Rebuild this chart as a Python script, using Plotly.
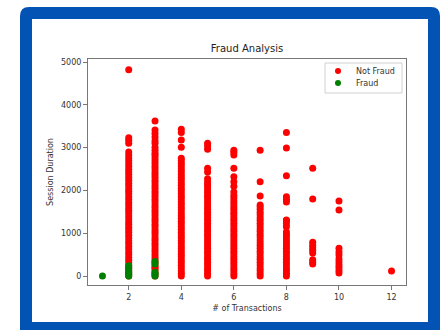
import plotly.graph_objects as go

# ---- data ----
nf_x2 = [0, 55, 120, 185, 240, 310, 370, 430, 500, 560, 630, 690, 760, 820, 890, 950, 1020, 1080,
         1140, 1210, 1270, 1340, 1400, 1470, 1530, 1590, 1660, 1720, 1790, 1850, 1920, 1980, 2040,
         2110, 2170, 2240, 2300, 2370, 2430, 2490, 2560, 2620, 2690, 2760, 2830, 2900, 3100, 3170,
         3230, 4820]
nf_x3 = [0, 60, 125, 180, 200, 250, 320, 380, 440, 500, 570, 630, 700, 760, 830, 890, 960, 1020,
         1080, 1150, 1210, 1280, 1340, 1410, 1470, 1530, 1600, 1660, 1730, 1790, 1860, 1920, 1980,
         2050, 2110, 2180, 2240, 2310, 2370, 2430, 2500, 2560, 2630, 2690, 2760, 2820, 2870, 2940,
         3010, 3100, 3160, 3250, 3330, 3410, 3620]
nf_x4 = [0, 60, 120, 190, 250, 320, 380, 450, 510, 570, 640, 700, 770, 830, 900, 960, 1020, 1090,
         1150, 1220, 1280, 1350, 1410, 1470, 1540, 1600, 1670, 1730, 1800, 1860, 1920, 1990, 2050,
         2120, 2180, 2250, 2310, 2370, 2440, 2500, 2570, 2630, 2690, 2750, 3010, 3180, 3350, 3430]
nf_x5 = [0, 60, 130, 190, 260, 320, 390, 450, 520, 580, 650, 710, 780, 840, 910, 970, 1040, 1100,
         1170, 1230, 1300, 1360, 1430, 1490, 1560, 1620, 1690, 1750, 1820, 1880, 1950, 2010, 2080,
         2140, 2200, 2270, 2430, 2520, 2960, 3040, 3100]
nf_x6 = [0, 60, 130, 190, 260, 320, 390, 450, 520, 580, 650, 710, 780, 840, 910, 970, 1040, 1100,
         1170, 1230, 1300, 1360, 1430, 1490, 1560, 1620, 1690, 1750, 1820, 1880, 1960, 2100, 2200,
         2320, 2520, 2830, 2890, 2940]
nf_x7 = [0, 60, 130, 190, 260, 320, 390, 450, 520, 580, 650, 710, 780, 840, 910, 970, 1040, 1100,
         1170, 1230, 1300, 1360, 1430, 1490, 1560, 1620, 1660, 1870, 2200, 2940]
nf_x8 = [0, 60, 130, 190, 260, 320, 390, 450, 520, 580, 650, 710, 780, 840, 910, 970, 1030, 1150,
         1220, 1290, 1310, 1730, 1790, 1850, 2340, 2990, 3350]
nf_x9 = [280, 330, 380, 540, 600, 660, 720, 790, 1800, 2520]
nf_x10 = [70, 130, 200, 260, 330, 400, 490, 560, 650, 1540, 1750]
nf_x12 = [120]

fr_x1 = [0]
fr_x2 = [0, 40, 90, 140, 190, 240]
fr_x3 = [0, 40, 90, 280, 340]

series_names = ["Not Fraud", "Fraud"]
series_colors = ["#ff0000", "#008000"]

not_fraud = {2: nf_x2, 3: nf_x3, 4: nf_x4, 5: nf_x5, 6: nf_x6, 7: nf_x7, 8: nf_x8,
             9: nf_x9, 10: nf_x10, 12: nf_x12}
fraud = {1: fr_x1, 2: fr_x2, 3: fr_x3}

def flatten(d):
    xs, ys = [], []
    for k, vals in d.items():
        xs += [k] * len(vals)
        ys += vals
    return xs, ys

FONT = "DejaVu Sans"
W, H = 442, 330
L, R, T, B = 88, 406, 59, 285

fig = go.Figure()
for name, color, d in zip(series_names, series_colors, [not_fraud, fraud]):
    xs, ys = flatten(d)
    fig.add_trace(go.Scatter(x=xs, y=ys, mode="markers", name=name, showlegend=False,
                             marker=dict(color=color, size=7, line=dict(width=0))))

def px(x):
    return (x - L) / (R - L)

def py(y):
    return (B - y) / (B - T)

def rounded(x0, y0, x1, y1, r):
    return (f"M {px(x0)} {py(y1)} L {px(x0)} {py(y0 + r)} "
            f"Q {px(x0)} {py(y0)} {px(x0 + r)} {py(y0)} "
            f"L {px(x1 - r)} {py(y0)} Q {px(x1)} {py(y0)} {px(x1)} {py(y0 + r)} "
            f"L {px(x1)} {py(y1)} Z")

shapes = [
    dict(type="path", xref="paper", yref="paper", layer="below",
         path=rounded(20, 7, 440, 335, 9), fillcolor="#0353b4", line=dict(width=0)),
    dict(type="rect", xref="paper", yref="paper", layer="below",
         x0=px(32), x1=px(428), y0=py(322), y1=py(19), fillcolor="white", line=dict(width=0)),
    # legend box
    dict(type="rect", xref="paper", yref="paper", layer="above",
         x0=px(325), x1=px(402), y0=py(93), y1=py(63), fillcolor="white",
         line=dict(color="#d0d0d0", width=1)),
]
annotations = []
for i, (name, color) in enumerate(zip(series_names, series_colors)):
    cy = 71 + 12 * i
    shapes.append(dict(type="circle", xref="paper", yref="paper", layer="above",
                       x0=px(335), x1=px(341), y0=py(cy + 3), y1=py(cy - 3),
                       fillcolor=color, line=dict(width=0)))
    annotations.append(dict(xref="paper", yref="paper", x=px(354), y=py(cy),
                            xanchor="left", yanchor="middle", showarrow=False, text=name,
                            font=dict(family=FONT, size=8, color="#333")))

axis_common = dict(showline=True, linecolor="#777", linewidth=1, mirror=True,
                   ticks="outside", ticklen=4, tickcolor="#777", showgrid=False,
                   zeroline=False, tickfont=dict(family=FONT, size=8, color="#333"))

fig.update_layout(
    width=W, height=H,
    margin=dict(l=L, r=W - R, t=T, b=H - B),
    paper_bgcolor="white", plot_bgcolor="white",
    shapes=shapes, annotations=annotations,
    title=dict(text="Fraud Analysis", x=247 / W, xanchor="center",
               y=1 - 48 / H, yanchor="middle",
               font=dict(family=FONT, size=10, color="#222")),
    xaxis=dict(range=[0.45, 12.55], tickvals=[2, 4, 6, 8, 10, 12],
               title=dict(text="# of Transactions", font=dict(family=FONT, size=8, color="#333"),
                          standoff=4),
               **axis_common),
    yaxis=dict(range=[-210, 5070], tickvals=[0, 1000, 2000, 3000, 4000, 5000],
               title=dict(text="Session Duration", font=dict(family=FONT, size=8, color="#333"),
                          standoff=6),
               **axis_common),
    showlegend=False,
)

fig.write_html("out.html", config={"displayModeBar": False},
               post_script="document.body.style.margin='0';")
